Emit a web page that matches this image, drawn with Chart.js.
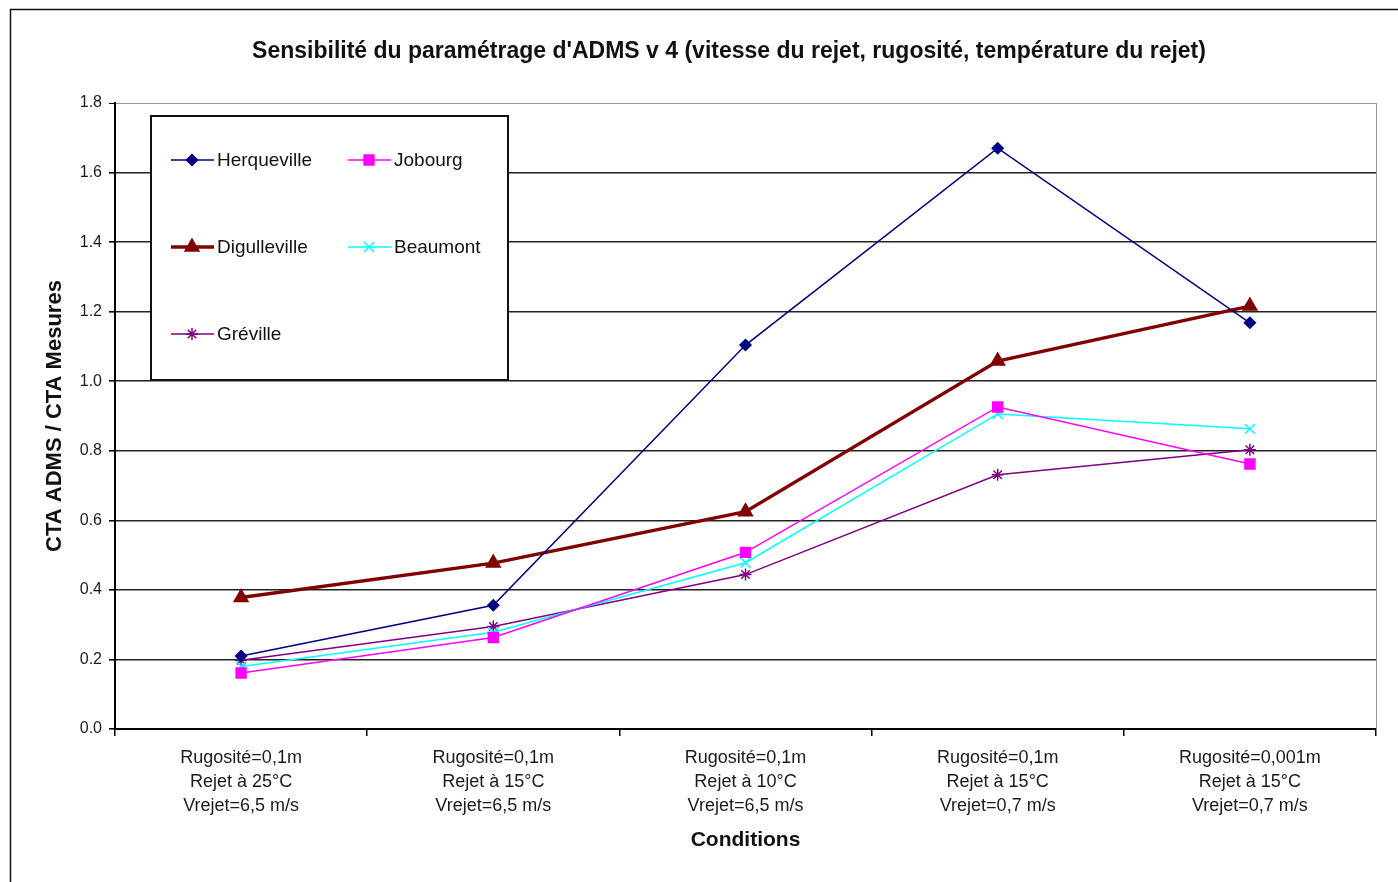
<!DOCTYPE html>
<html>
<head>
<meta charset="utf-8">
<script src="https://cdn.jsdelivr.net/npm/chart.js@4/dist/chart.umd.min.js"></script>
<style>
  body { margin: 0; background: #fff; }
  #wrap { width: 1398px; height: 882px; position: relative; }
</style>
</head>
<body>
<div id="wrap"><canvas id="chart"></canvas></div>
<script>
const categories = [
  ["Rugosité=0,1m", "Rejet à 25°C", "Vrejet=6,5 m/s"],
  ["Rugosité=0,1m", "Rejet à 15°C", "Vrejet=6,5 m/s"],
  ["Rugosité=0,1m", "Rejet à 10°C", "Vrejet=6,5 m/s"],
  ["Rugosité=0,1m", "Rejet à 15°C", "Vrejet=0,7 m/s"],
  ["Rugosité=0,001m", "Rejet à 15°C", "Vrejet=0,7 m/s"]
];
const herqueville = [0.21, 0.356, 1.104, 1.67, 1.168];
const jobourg = [0.161, 0.263, 0.508, 0.926, 0.762];
const digulleville = [0.378, 0.477, 0.625, 1.058, 1.216];
const beaumont = [0.18, 0.278, 0.478, 0.906, 0.863];
const greville = [0.198, 0.295, 0.444, 0.731, 0.803];
const yTicks = [0, 0.2, 0.4, 0.6, 0.8, 1.0, 1.2, 1.4, 1.6, 1.8];

const title = "Sensibilité du paramétrage d'ADMS v 4 (vitesse du rejet, rugosité, température du rejet)";

function serie(label, data, color, width, style, radius) {
  return {
    label: label,
    data: data,
    borderColor: color,
    backgroundColor: color,
    borderWidth: width,
    pointStyle: style,
    pointRadius: radius,
    pointHoverRadius: radius,
    pointBorderWidth: 1.5,
    pointBackgroundColor: color,
    pointBorderColor: color,
    tension: 0,
    fill: false
  };
}

// frame, title, right border and boxed two-column legend
const decor = {
  id: "decor",
  beforeDraw(chart) {
    const ctx = chart.ctx;
    ctx.save();
    ctx.strokeStyle = "#111";
    ctx.lineWidth = 1.5;
    ctx.strokeRect(10.5, 9.5, 1600, 1000);
    ctx.fillStyle = "#111";
    ctx.font = "bold 23px 'Liberation Sans', Arial, sans-serif";
    ctx.textAlign = "center";
    ctx.textBaseline = "middle";
    ctx.fillText(title, 729, 52);
    ctx.restore();
  },
  afterDatasetsDraw(chart) {
    const ctx = chart.ctx;
    const a = chart.chartArea;
    ctx.save();
    ctx.strokeStyle = "#999";
    ctx.lineWidth = 1;
    ctx.beginPath();
    ctx.moveTo(a.right + 0.5, a.top);
    ctx.lineTo(a.right + 0.5, a.bottom);
    ctx.stroke();

    // legend box
    ctx.fillStyle = "#fff";
    ctx.fillRect(151, 116, 357, 264);
    ctx.strokeStyle = "#111";
    ctx.lineWidth = 2;
    ctx.strokeRect(151, 116, 357, 264);

    const cols = [171, 348];
    const rows = [160, 247, 334];
    chart.data.datasets.forEach(function (ds, i) {
      const x0 = cols[i % 2];
      const y = rows[Math.floor(i / 2)];
      ctx.strokeStyle = ds.borderColor;
      ctx.lineWidth = ds.borderWidth;
      ctx.beginPath();
      ctx.moveTo(x0, y);
      ctx.lineTo(x0 + 43, y);
      ctx.stroke();
      ctx.fillStyle = ds.backgroundColor;
      ctx.lineWidth = 1.5;
      Chart.helpers.drawPoint(ctx, {
        pointStyle: ds.pointStyle,
        radius: ds.pointRadius,
        rotation: 0,
        borderWidth: 1.5
      }, x0 + 21, y);
      ctx.fillStyle = "#111";
      ctx.font = "19px 'Liberation Sans', Arial, sans-serif";
      ctx.textAlign = "left";
      ctx.textBaseline = "middle";
      ctx.fillText(ds.label, x0 + 46, y + 1);
    });
    ctx.restore();
  }
};

new Chart(document.getElementById("chart"), {
  type: "line",
  data: {
    labels: categories,
    datasets: [
      serie("Herqueville", herqueville, "#000080", 1.5, "rectRot", 5.5),
      serie("Jobourg", jobourg, "#ff00ff", 1.5, "rect", 7),
      serie("Digulleville", digulleville, "#800000", 3.5, "triangle", 8),
      serie("Beaumont", beaumont, "#00ffff", 1.5, "crossRot", 7),
      serie("Gréville", greville, "#800080", 1.5, "star", 6)
    ]
  },
  options: {
    responsive: true,
    maintainAspectRatio: false,
    animation: false,
    layout: { padding: { left: 0, right: 22, top: 103, bottom: 0 } },
    plugins: {
      legend: { display: false },
      title: { display: false },
      tooltip: { enabled: false }
    },
    scales: {
      x: {
        offset: true,
        afterFit: function (s) { s.height = 153; },
        border: { color: "#000", width: 2 },
        grid: {
          offset: true,
          drawOnChartArea: false,
          drawTicks: true,
          tickLength: 7,
          color: "#000",
          lineWidth: 1.5
        },
        ticks: {
          color: "#1a1a1a",
          padding: 10,
          maxRotation: 0,
          autoSkip: false,
          font: { family: "'Liberation Sans', Arial, sans-serif", size: 18, lineHeight: 1.33 }
        },
        title: {
          display: true,
          text: "Conditions",
          color: "#111",
          padding: { top: 0, bottom: 29 },
          font: { family: "'Liberation Sans', Arial, sans-serif", size: 21, weight: "bold" }
        }
      },
      y: {
        min: 0,
        max: 1.8,
        afterFit: function (s) { s.width = 115; },
        afterBuildTicks: function (s) {
          s.ticks = yTicks.map(function (v) { return { value: v }; });
        },
        border: { color: "#000", width: 2 },
        grid: {
          color: function (c) { return c.tick && c.tick.value === 1.8 ? "#999" : "#222"; },
          lineWidth: function (c) { return c.tick && c.tick.value === 1.8 ? 1 : 1.6; },
          tickColor: "#000",
          tickLength: 6
        },
        ticks: {
          color: "#1a1a1a",
          padding: 7,
          font: { family: "'Liberation Sans', Arial, sans-serif", size: 16 },
          callback: function (v) { return Number(v).toFixed(1); }
        },
        title: {
          display: true,
          text: "CTA ADMS / CTA Mesures",
          color: "#111",
          padding: { top: 42, bottom: 0 },
          font: { family: "'Liberation Sans', Arial, sans-serif", size: 22, weight: "bold" }
        }
      }
    }
  },
  plugins: [decor]
});
</script>
</body>
</html>
